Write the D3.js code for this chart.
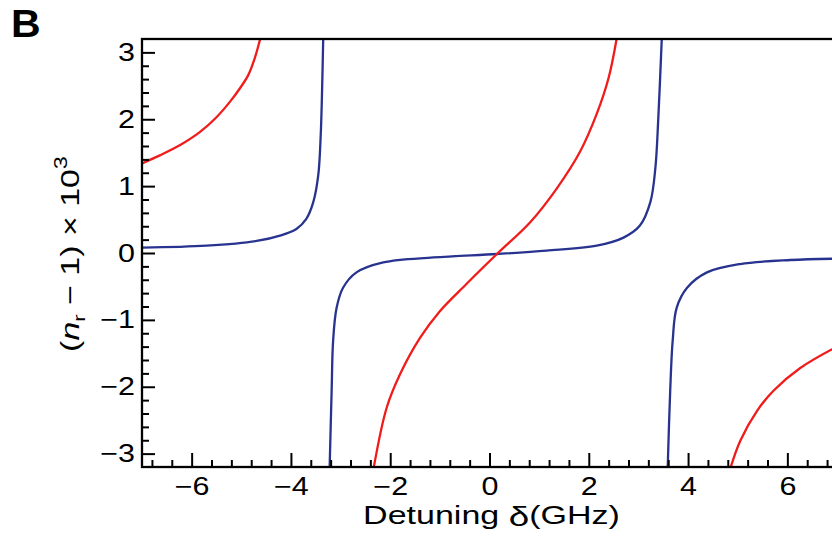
<!DOCTYPE html>
<html>
<head>
<meta charset="utf-8">
<script src="https://cdn.jsdelivr.net/npm/d3@7"></script>
<style>
  body { margin: 0; background: #fff; }
  svg { font-family: "Liberation Sans", Arial, sans-serif; }
</style>
</head>
<body>
<div id="chart"></div>
<script>
// values, one pair of arrays per branch
const blueX1 = [-7.0, -5.7, -4.69, -4.22, -3.89, -3.69, -3.55, -3.45, -3.40, -3.37, -3.35];
const blueY1 = [0.08, 0.11, 0.18, 0.26, 0.36, 0.51, 0.76, 1.16, 1.76, 2.51, 3.2];

const blueX2 = [-3.22, -3.18, -3.15, -3.08, -2.95, -2.68, -2.14, -1.13, 0.15, 1.15, 2.16, 2.70, 3.03, 3.24, 3.34, 3.40, 3.47];
const blueY2 = [-3.2, -2.06, -1.31, -0.82, -0.52, -0.29, -0.14, -0.066, -0.015, 0.035, 0.11, 0.23, 0.41, 0.76, 1.26, 2.01, 3.2];

const blueX3 = [3.59, 3.64, 3.69, 3.77, 3.98, 4.38, 5.05, 6.06, 7.0];
const blueY3 = [-3.2, -2.06, -1.31, -0.82, -0.52, -0.29, -0.165, -0.105, -0.085];

const redX1 = [-7.0, -6.64, -6.24, -5.83, -5.50, -5.23, -5.03, -4.86, -4.73, -4.62];
const redY1 = [1.34, 1.46, 1.61, 1.81, 2.03, 2.26, 2.46, 2.66, 2.91, 3.2];

const redX2 = [-2.33, -2.07, -1.80, -1.40, -1.00, -0.46, 0.15, 0.82, 1.35, 1.82, 2.16, 2.40, 2.56];
const redY2 = [-3.2, -2.31, -1.81, -1.27, -0.87, -0.46, -0.015, 0.46, 0.96, 1.51, 2.08, 2.62, 3.2];

const redX3 = [4.86, 5.05, 5.39, 5.72, 6.26, 7.0];
const redY3 = [-3.2, -2.81, -2.36, -2.06, -1.72, -1.40];

const xMajor = [-6, -4, -2, 0, 2, 4, 6];
const yMajor = [-3, -2, -1, 0, 1, 2, 3];

const width = 832, height = 550;
const margin = {left: 142, right: -5, top: 39, bottom: 83};
const stretch = 1.22; // the original lettering is wider than Liberation Sans

const svg = d3.select("#chart")
  .append("svg")
  .attr("width", width)
  .attr("height", height);

const xScale = d3.scaleLinear()
  .domain([-7, 7])
  .range([margin.left, width - margin.right]);

const yScale = d3.scaleLinear()
  .domain([-3.2, 3.2])
  .range([height - margin.bottom, margin.top]);

// minor tick positions
const xMinor = d3.range(-68, 69, 4).map(d => d / 10).filter(d => Math.abs(d % 2) > 0.01);
const yMinor = d3.range(-16, 17, 1).map(d => d / 5).filter(d => Math.abs(d % 1) > 0.01 && Math.abs(d) < 3.19);

svg.append("clipPath").attr("id", "plot")
  .append("rect")
  .attr("x", xScale(-7)).attr("y", yScale(3.2))
  .attr("width", xScale(7) - xScale(-7))
  .attr("height", yScale(-3.2) - yScale(3.2));

const line = d3.line()
  .x(d => xScale(d[0]))
  .y(d => yScale(d[1]))
  .curve(d3.curveCatmullRom.alpha(0.5));

const branches = [
  [blueX1, blueY1, "#27338f"],
  [blueX2, blueY2, "#27338f"],
  [blueX3, blueY3, "#27338f"],
  [redX1, redY1, "#f01c1c"],
  [redX2, redY2, "#f01c1c"],
  [redX3, redY3, "#f01c1c"]
];

svg.append("g").attr("clip-path", "url(#plot)")
  .selectAll("path")
  .data(branches)
  .enter()
  .append("path")
    .attr("d", b => line(b[0].map((x, i) => [x, b[1][i]])))
    .attr("fill", "none")
    .attr("stroke", b => b[2])
    .attr("stroke-width", 2.3);

// minor ticks
svg.append("g")
  .attr("transform", `translate(0,${yScale(-3.2)})`)
  .call(d3.axisBottom(xScale).tickValues(xMinor).tickSize(-7).tickFormat(""))
  .call(g => g.select(".domain").remove())
  .selectAll("line").attr("stroke-width", 2);

svg.append("g")
  .attr("transform", `translate(${xScale(-7)},0)`)
  .call(d3.axisLeft(yScale).tickValues(yMinor).tickSize(-7).tickFormat(""))
  .call(g => g.select(".domain").remove())
  .selectAll("line").attr("stroke-width", 2);

// major ticks and labels
const xAxis = svg.append("g")
  .attr("transform", `translate(0,${yScale(-3.2)})`)
  .call(d3.axisBottom(xScale).tickValues(xMajor).tickSize(-14).tickSizeOuter(0)
    .tickPadding(10).tickFormat(d3.format("d")))
  .attr("font-size", "25px")
  .attr("font-family", null);
xAxis.selectAll("line").attr("stroke-width", 2);
xAxis.select(".domain").remove();
xAxis.selectAll("text").attr("transform", `scale(${stretch},1)`);

const yAxis = svg.append("g")
  .attr("transform", `translate(${xScale(-7)},0)`)
  .call(d3.axisLeft(yScale).tickValues(yMajor).tickSize(-13).tickSizeOuter(0)
    .tickFormat(d3.format("d")))
  .attr("font-size", "25px")
  .attr("font-family", null);
yAxis.selectAll("line").attr("stroke-width", 2);
yAxis.select(".domain").remove();
yAxis.selectAll("text")
  .attr("x", 0)
  .attr("transform", `translate(-7,0) scale(${stretch},1)`);

// frame
svg.append("rect")
  .attr("x", xScale(-7)).attr("y", yScale(3.2))
  .attr("width", xScale(7) - xScale(-7))
  .attr("height", yScale(-3.2) - yScale(3.2))
  .attr("fill", "none")
  .attr("stroke", "#000")
  .attr("stroke-width", 2.3);

// axis titles, stretched to the length they have in the original
const xt = svg.append("text")
  .attr("text-anchor", "middle")
  .attr("font-size", "25px");
xt.append("tspan").text("Detuning ");
xt.append("tspan").attr("font-size", "27px").attr("dy", 2).text("δ");
xt.append("tspan").attr("dy", -2).text("(GHz)");
const xw = xt.node().getBBox().width;
xt.attr("transform", `translate(${xScale(0) + 2},524) scale(${257 / xw},1)`);

const yt = svg.append("text")
  .attr("text-anchor", "middle")
  .attr("font-size", "26px");
yt.append("tspan").text("(");
yt.append("tspan").attr("font-style", "italic").text("n");
yt.append("tspan").attr("font-size", "17px").attr("dy", 6).text("r");
yt.append("tspan").attr("dy", -6).text(" − 1) × 10");
yt.append("tspan").attr("font-size", "18px").attr("dy", -12).text("3");
const yw = yt.node().getBBox().width;
yt.attr("transform",
  `translate(79,${(yScale(3.2) + yScale(-3.2)) / 2 + 1}) rotate(-90) scale(${196 / yw},1)`);

// panel letter
svg.append("text")
  .attr("x", 0)
  .attr("y", 0)
  .attr("transform", "translate(11,37) scale(1.08,1)")
  .attr("font-size", "38px")
  .attr("font-weight", "bold")
  .text("B");
</script>
</body>
</html>
